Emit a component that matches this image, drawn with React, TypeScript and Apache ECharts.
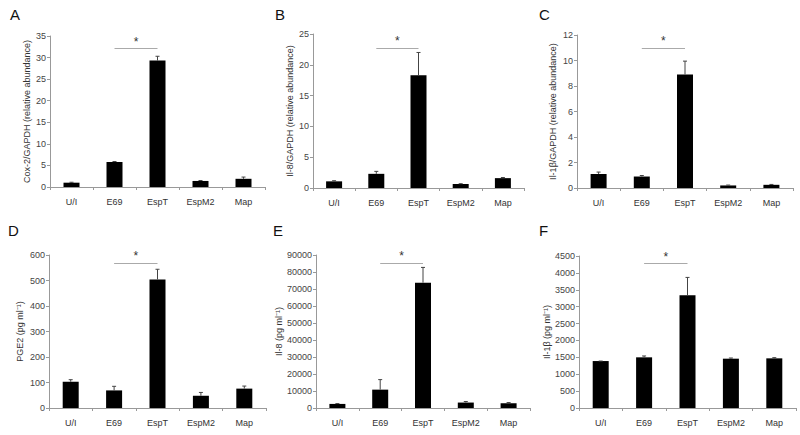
import React, { useEffect, useRef } from "react";
import * as echarts from "echarts";

const categories = ["U/I", "E69", "EspT", "EspM2", "Map"];

const panelLetters = ["A", "B", "C", "D", "E", "F"];
const yNames = [
  "Cox-2/GAPDH (relative abundance)",
  "Il-8/GAPDH (relative abundance)",
  "Il-1β/GAPDH (relative abundance)",
  "PGE2 (pg ml⁻¹)",
  "Il-8 (pg ml⁻¹)",
  "Il-1β (pg ml⁻¹)",
];

const valuesA = [1.0, 5.8, 29.3, 1.4, 1.9];
const errorsA = [0.1, 0.1, 1.0, 0.1, 0.4];
const valuesB = [1.08, 2.3, 18.3, 0.65, 1.6];
const errorsB = [0.1, 0.4, 3.7, 0.05, 0.1];
const valuesC = [1.1, 0.9, 8.9, 0.2, 0.25];
const errorsC = [0.15, 0.08, 1.05, 0.03, 0.03];
const valuesD = [103, 69, 504, 48, 76];
const errorsD = [8, 16, 40, 13, 10];
const valuesE = [2400, 10800, 73700, 3200, 2800];
const errorsE = [200, 5900, 9000, 600, 400];
const valuesF = [1390, 1500, 3336, 1460, 1470];
const errorsF = [0, 40, 530, 20, 20];

const yMax = [35, 25, 12, 600, 90000, 4500];
const yInterval = [5, 5, 2, 100, 10000, 500];
const starLevel = [32.1, 22.7, 11.0, 567, 85100, 4275];

const FONT = "'Liberation Sans', Arial, sans-serif";

export default function App() {
  const ref = useRef<HTMLDivElement>(null);

  useEffect(() => {
    if (!ref.current) return;
    const chart = echarts.init(ref.current, undefined, { renderer: "svg" });

    const values = [valuesA, valuesB, valuesC, valuesD, valuesE, valuesF];
    const errors = [errorsA, errorsB, errorsC, errorsD, errorsE, errorsF];

    const grids = [
      { left: 50, top: 36, width: 215, height: 151 },
      { left: 313, top: 34, width: 211, height: 154 },
      { left: 577, top: 35, width: 216, height: 153 },
      { left: 49, top: 255, width: 217, height: 153 },
      { left: 316, top: 255, width: 214, height: 153 },
      { left: 579, top: 256, width: 217, height: 152 },
    ];
    const nameGaps = [19, 19, 20, 25, 27, 25];
    const letterPos = [
      [10, 7],
      [275, 7],
      [539, 7],
      [8, 223],
      [273, 223],
      [539, 223],
    ];

    const xAxis = grids.map((_, i) => ({
      type: "category",
      gridIndex: i,
      data: categories,
      axisLine: { lineStyle: { color: "#999" } },
      axisTick: { show: true, alignWithLabel: false, length: 3, lineStyle: { color: "#999" } },
      axisLabel: { color: "#333", fontSize: 9, fontFamily: FONT, margin: 10 },
    }));

    const yAxis = grids.map((_, i) => ({
      type: "value",
      gridIndex: i,
      min: 0,
      max: yMax[i],
      interval: yInterval[i],
      name: yNames[i],
      nameLocation: "middle",
      nameGap: nameGaps[i],
      nameTextStyle: { color: "#333", fontSize: 9, fontFamily: FONT },
      axisLine: { show: true, lineStyle: { color: "#999" } },
      axisTick: { show: true, length: 3, lineStyle: { color: "#999" } },
      axisLabel: {
        color: "#444",
        fontSize: 9,
        fontFamily: FONT,
        margin: 4,
        formatter: (v: number) => String(v),
      },
      splitLine: { show: false },
    }));

    const series: any[] = [];
    grids.forEach((_, i) => {
      series.push({
        type: "bar",
        xAxisIndex: i,
        yAxisIndex: i,
        data: values[i],
        barWidth: 16,
        itemStyle: { color: "#000" },
        markLine: {
          silent: true,
          symbol: "none",
          lineStyle: { color: "#aaa", type: "solid", width: 1 },
          label: {
            show: true,
            position: "middle",
            formatter: "*",
            color: "#333",
            fontSize: 12,
            fontFamily: FONT,
            distance: 1,
          },
          data: [
            [
              { coord: [categories[1], starLevel[i]] },
              { coord: [categories[2], starLevel[i]] },
            ],
          ],
        },
      });
      series.push({
        type: "custom",
        xAxisIndex: i,
        yAxisIndex: i,
        data: values[i].map((v, k) => [k, v, v + errors[i][k]]),
        renderItem: (params: any, api: any) => {
          const base = api.coord([api.value(0), api.value(1)]);
          const top = api.coord([api.value(0), api.value(2)]);
          return {
            type: "group",
            children: [
              {
                type: "line",
                shape: { x1: base[0], y1: base[1], x2: top[0], y2: top[1] },
                style: { stroke: "#444", lineWidth: 1 },
              },
              {
                type: "line",
                shape: { x1: top[0] - 2, y1: top[1], x2: top[0] + 2, y2: top[1] },
                style: { stroke: "#444", lineWidth: 1 },
              },
            ],
          };
        },
        z: 3,
      });
    });

    const graphic = panelLetters.map((t, i) => ({
      type: "text",
      left: letterPos[i][0],
      top: letterPos[i][1],
      style: { text: t, fontSize: 15, fill: "#111", fontFamily: FONT },
    }));

    chart.setOption({
      animation: false,
      backgroundColor: "#fff",
      grid: grids.map((g) => ({ ...g, containLabel: false })),
      xAxis,
      yAxis,
      series,
      graphic,
    } as any);

    return () => chart.dispose();
  }, []);

  return (
    <div
      ref={ref}
      style={{ position: "fixed", left: 0, top: 0, width: 800, height: 435 }}
    />
  );
}
